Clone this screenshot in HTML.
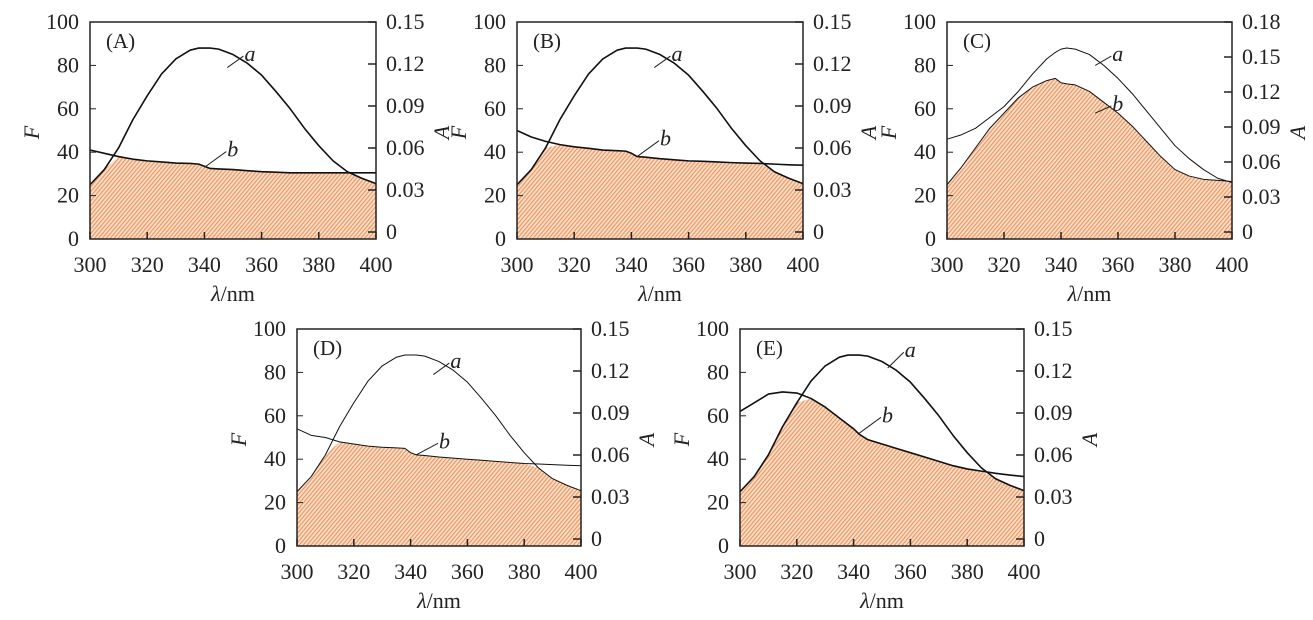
<!DOCTYPE html>
<html><head><meta charset="utf-8">
<style>
html,body{margin:0;padding:0;background:#fff;}
svg{display:block;}
text{font-family:"Liberation Serif",serif;fill:#222;}
</style></head>
<body>
<svg id="chart" width="1313" height="620" viewBox="0 0 1313 620" xmlns="http://www.w3.org/2000/svg">
<defs>
<pattern id="hatch" patternUnits="userSpaceOnUse" width="3" height="3" patternTransform="rotate(40)">
<rect width="3" height="3" fill="#fbe1cd"/>
<rect width="1.2" height="3" fill="#ee955e"/>
</pattern>
</defs>
</svg>
<script>
// shared wavelength grid (nm)
const wl = [300,305,310,315,320,325,330,335,338,340,342,345,350,355,360,365,370,375,380,385,390,395,400];
const xTicks = [300,320,340,360,380,400];
const fTicks = [0,20,40,60,80,100];
const aTicksStd = [0,0.03,0.06,0.09,0.12,0.15];
const aTicksC = [0,0.03,0.06,0.09,0.12,0.15,0.18];
// series a (fluorescence)
const aStd = [25,32,42,55,66,76,83,87,88,88,88,87.5,85,81,75.5,68,60,51,43,36,31,28,25.5];
const aC   = [46,48,51,56,61,68,76,83,86,87.5,88,87.5,85,80,74,67,59,51,43,37,32,28,26];
// series b (absorbance, plotted on F scale)
const bA = [41,39.5,38,36.8,36,35.5,35,34.8,34.5,33.5,32.5,32.3,32,31.5,31,30.8,30.5,30.5,30.5,30.5,30.5,30.5,30.5];
const bB = [50,47,45,43.5,42.5,41.8,41,40.7,40.5,39.5,38,37.7,37,36.5,36,35.8,35.5,35.2,35,34.8,34.5,34.2,34];
const bC = [25,33,42,51,58,65,70,73,74,72,71.5,71,68,63,58,52,45,38,32,29,27.5,27,26.5];
const bD = [54,51,50,48,47,46,45.5,45.2,45,43,42,41.7,41,40.5,40,39.5,39,38.5,38,37.8,37.5,37.2,37];
const bE = [62,66,70,71,70.5,68,64,59,56,54,51.5,49,47,45,43,41,39,37,35.5,34.5,33.5,32.7,32];

const panels = [
 {id:'A',L:90,R:376,T:22,B:239,a:aStd,b:bA,at:aTicksStd,amax:0.15,la:[354,82,348,79],lb:[348,38,340,33]},
 {id:'B',L:517,R:803,T:22,B:239,a:aStd,b:bB,at:aTicksStd,amax:0.15,la:[354,82,348,79],lb:[350,43,342,38]},
 {id:'C',L:947,R:1232,T:22,B:239,a:aC,b:bC,at:aTicksC,amax:0.18,la:[358,82,352,80],lb:[358,59,352,58]},
 {id:'D',L:297,R:581,T:329,B:546,a:aStd,b:bD,at:aTicksStd,amax:0.15,la:[354,82,348,79],lb:[350,45,342,42]},
 {id:'E',L:740,R:1024,T:329,B:546,a:aStd,b:bE,at:aTicksStd,amax:0.15,la:[358,87,352,82],lb:[350,57,342,52]}
];
const NS='http://www.w3.org/2000/svg';
const svg=document.getElementById('chart');
function mk(tag,attrs,parent){const e=document.createElementNS(NS,tag);for(const k in attrs)e.setAttribute(k,attrs[k]);(parent||svg).appendChild(e);return e;}
panels.forEach(p=>{
  const g=mk('g',{});
  
  
  const xs=v=>p.L+(v-300)*(p.R-p.L)/100;
  const ys=v=>p.B-v*(p.B-p.T)/100;
  const ya=v=>(p.B-7)-v/p.amax*((p.B-7)-p.T);
  let d='M'+xs(wl[0])+','+p.B;
  wl.forEach((w,i)=>{d+=' L'+xs(w)+','+ys(Math.min(p.a[i],p.b[i]));});
  d+=' L'+xs(wl[wl.length-1])+','+p.B+' Z';
  const f=mk('path',{d:d,fill:'url(#hatch)',stroke:'none'},g);
  
  
  const line=(arr,nm,w)=>{
    const pd=wl.map((x,i)=>(i?'L':'M')+xs(x)+','+ys(arr[i])).join(' ');
    const e=mk('path',{d:pd,fill:'none',stroke:'#111','stroke-width':w,'stroke-linejoin':'round'},g);
    
    
  };
  line(p.a,'curve-a',p.id==='C'||p.id==='D'?1:1.6);
  line(p.b,'curve-b',p.id==='C'||p.id==='D'?1:1.6);
  const fr=mk('rect',{x:p.L,y:p.T,width:p.R-p.L,height:p.B-p.T,fill:'none',stroke:'#222','stroke-width':1.5},g);
  
  
  xTicks.forEach(v=>{
    mk('line',{x1:xs(v),x2:xs(v),y1:p.B,y2:p.B-7,stroke:'#222','stroke-width':1.5},g);
    const t=mk('text',{x:xs(v),y:p.B+33,'font-size':22,'text-anchor':'middle'},g);
    t.textContent=v;
    
    
  });
  fTicks.forEach(v=>{
    mk('line',{x1:p.L,x2:p.L+6,y1:ys(v),y2:ys(v),stroke:'#222','stroke-width':1},g);
    const t=mk('text',{x:p.L-11,y:ys(v)+7,'font-size':22,'text-anchor':'end'},g);
    t.textContent=v;
    
    
  });
  p.at.forEach(v=>{
    mk('line',{x1:p.R,x2:p.R-8,y1:ya(v),y2:ya(v),stroke:'#222','stroke-width':1.5},g);
    const t=mk('text',{x:p.R+10,y:ya(v)+7,'font-size':22},g);
    t.textContent=v===0?'0':v.toFixed(2);
    
    
  });
  const cy=(p.T+p.B)/2;
  const ft=mk('text',{x:0,y:0,'font-size':22,'font-style':'italic','text-anchor':'middle',transform:'translate('+(p.L-51)+','+(cy+2)+') rotate(-90)'},g);
  ft.textContent='F';
  
  
  const at=mk('text',{x:0,y:0,'font-size':22,'font-style':'italic','text-anchor':'middle',transform:'translate('+(p.R+73)+','+(cy+2)+') rotate(-90)'},g);
  at.textContent='A';
  
  
  const xt=mk('text',{x:(p.L+p.R)/2,y:p.B+62,'font-size':22,'text-anchor':'middle'},g);
  xt.innerHTML='<tspan font-style="italic">λ</tspan>/nm';
  
  
  const pl=mk('text',{x:p.L+16,y:p.T+26,'font-size':21},g);
  pl.textContent='('+p.id+')';
  
  
  [[p.la,'a'],[p.lb,'b']].forEach(([c,s])=>{
    mk('line',{x1:xs(c[2]),y1:ys(c[3]),x2:xs(c[0])-1,y2:ys(c[1])-5,stroke:'#222','stroke-width':1},g);
    const t=mk('text',{x:xs(c[0]),y:ys(c[1]),'font-size':22,'font-style':'italic'},g);
    t.textContent=s;
    
    
  });
});
</script>
</body></html>
